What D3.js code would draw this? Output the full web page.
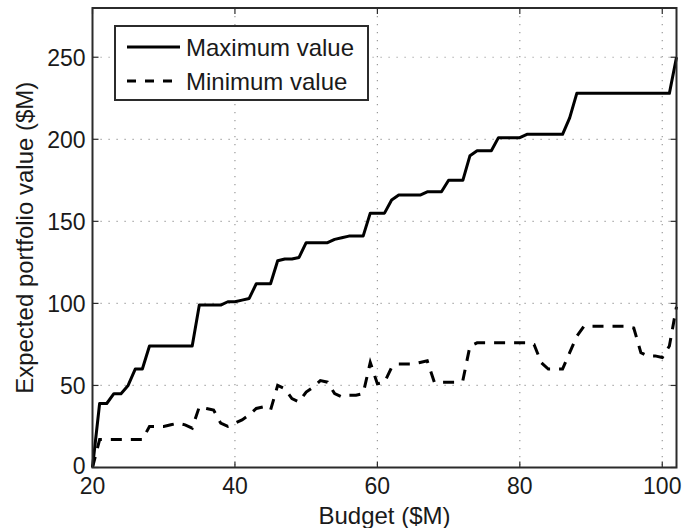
<!DOCTYPE html>
<html>
<head>
<meta charset="utf-8">
<script src="https://cdn.jsdelivr.net/npm/d3@7"></script>
<style>
  html, body { margin: 0; padding: 0; background: #fff; }
  svg { display: block; font-family: "Liberation Sans", Arial, sans-serif; }
</style>
</head>
<body>
<svg id="chart" width="683" height="528"></svg>
<script>
// Budget levels ($M)
const budget = d3.range(20, 103);

// Expected portfolio value ($M) at each budget level
const maxValue = [
  0, 39, 39, 45, 45, 50, 60, 60, 74, 74,            // 20-29
  74, 74, 74, 74, 74, 99, 99, 99, 99, 101,          // 30-39
  101, 102, 103, 112, 112, 112, 126, 127, 127, 128, // 40-49
  137, 137, 137, 137, 139, 140, 141, 141, 141, 155, // 50-59
  155, 155, 163, 166, 166, 166, 166, 168, 168, 168, // 60-69
  175, 175, 175, 190, 193, 193, 193, 201, 201, 201, // 70-79
  201, 203, 203, 203, 203, 203, 203, 213, 228, 228, // 80-89
  228, 228, 228, 228, 228, 228, 228, 228, 228, 228, // 90-99
  228, 228, 250                                     // 100-102
];

const minValue = [
  0, 17, 17, 17, 17, 17, 17, 17, 25, 25,            // 20-29
  25, 26, 27, 26, 24, 37, 36, 35, 27, 25,           // 30-39
  27, 29, 32, 36, 37, 35, 50, 48, 42, 40,           // 40-49
  46, 49, 53, 52, 45, 43, 44, 44, 45, 64,           // 50-59
  51, 52, 61, 63, 63, 63, 64, 65, 52, 52,           // 60-69
  52, 52, 53, 74, 76, 76, 76, 76, 76, 76,           // 70-79
  76, 76, 75, 64, 60, 60, 60, 70, 80, 86,           // 80-89
  86, 86, 86, 86, 86, 86, 85, 70, 68, 68,           // 90-99
  67, 74, 98                                        // 100-102
];

const xTicks = [20, 40, 60, 80, 100];
const yTicks = [0, 50, 100, 150, 200, 250];

const seriesNames = ["Maximum value", "Minimum value"];

const svg = d3.select("#chart");
const plot = { left: 92.5, right: 676.5, top: 8, bottom: 467.5 };

const x = d3.scaleLinear().domain([20, 102]).range([plot.left, plot.right]);
const y = d3.scaleLinear().domain([0, 280]).range([plot.bottom, plot.top]);

const textColor = "#1a1a1a";
const frameColor = "#2b2b2b";
const dash = "11,9";

// Dotted grid
const grid = svg.append("g");
grid.selectAll("line.gx").data(xTicks.filter(d => d > 20)).enter().append("line")
  .attr("x1", d => x(d)).attr("x2", d => x(d))
  .attr("y1", plot.top).attr("y2", plot.bottom)
  .attr("stroke", "#9a9a9a").attr("stroke-width", 1.2)
  .attr("stroke-dasharray", "1.2,6.8");
grid.selectAll("line.gy").data(yTicks.filter(d => d > 0)).enter().append("line")
  .attr("x1", plot.left).attr("x2", plot.right)
  .attr("y1", d => y(d)).attr("y2", d => y(d))
  .attr("stroke", "#9a9a9a").attr("stroke-width", 1.2)
  .attr("stroke-dasharray", "1.2,6.8");

// Inward tick marks on all four sides
const tickLen = 6;
const ticks = svg.append("g").attr("stroke", frameColor).attr("stroke-width", 1.2);
xTicks.forEach(d => {
  ticks.append("line").attr("x1", x(d)).attr("x2", x(d)).attr("y1", plot.bottom).attr("y2", plot.bottom - tickLen);
  ticks.append("line").attr("x1", x(d)).attr("x2", x(d)).attr("y1", plot.top).attr("y2", plot.top + tickLen);
});
yTicks.forEach(d => {
  ticks.append("line").attr("x1", plot.left).attr("x2", plot.left + tickLen).attr("y1", y(d)).attr("y2", y(d));
  ticks.append("line").attr("x1", plot.right).attr("x2", plot.right - tickLen).attr("y1", y(d)).attr("y2", y(d));
});

// Series lines
const line = d3.line().x((d, i) => x(budget[i])).y(d => y(d));
svg.append("path").datum(maxValue)
  .attr("d", line).attr("fill", "none")
  .attr("stroke", "#000").attr("stroke-width", 3).attr("stroke-linejoin", "round");
svg.append("path").datum(minValue)
  .attr("d", line).attr("fill", "none")
  .attr("stroke", "#000").attr("stroke-width", 3).attr("stroke-dasharray", dash);

// Axes frame
svg.append("rect")
  .attr("x", plot.left).attr("y", plot.top)
  .attr("width", plot.right - plot.left).attr("height", plot.bottom - plot.top)
  .attr("fill", "none").attr("stroke", frameColor).attr("stroke-width", 2);

// Tick labels
svg.append("g").selectAll("text").data(xTicks).enter().append("text")
  .attr("x", d => x(d)).attr("y", 494)
  .attr("text-anchor", "middle").attr("font-size", 23).attr("fill", textColor)
  .text(d => d);
svg.append("g").selectAll("text").data(yTicks).enter().append("text")
  .attr("x", plot.left - 7).attr("y", d => y(d) - (d === 0 ? 2 : 0)).attr("dy", "0.36em")
  .attr("text-anchor", "end").attr("font-size", 23).attr("fill", textColor)
  .text(d => d);

// Axis titles
svg.append("text")
  .attr("x", (plot.left + plot.right) / 2).attr("y", 524)
  .attr("text-anchor", "middle").attr("font-size", 24).attr("fill", textColor)
  .text("Budget ($M)");
svg.append("text")
  .attr("transform", `translate(33,${(plot.top + plot.bottom) / 2}) rotate(-90)`)
  .attr("text-anchor", "middle").attr("font-size", 24).attr("fill", textColor)
  .text("Expected portfolio value ($M)");

// Legend
const legend = svg.append("g");
legend.append("rect")
  .attr("x", 115).attr("y", 26).attr("width", 253).attr("height", 74)
  .attr("fill", "#fff").attr("stroke", frameColor).attr("stroke-width", 2);
const legendRows = [
  { name: seriesNames[0], cy: 47, dashed: false },
  { name: seriesNames[1], cy: 81, dashed: true }
];
legendRows.forEach(r => {
  legend.append("line")
    .attr("x1", 127).attr("x2", 180).attr("y1", r.cy).attr("y2", r.cy)
    .attr("stroke", "#000").attr("stroke-width", 3)
    .attr("stroke-dasharray", r.dashed ? "9,9" : null);
  legend.append("text")
    .attr("x", 186).attr("y", r.cy).attr("dy", "0.36em")
    .attr("font-size", 24).attr("fill", textColor)
    .text(r.name);
});
</script>
</body>
</html>
